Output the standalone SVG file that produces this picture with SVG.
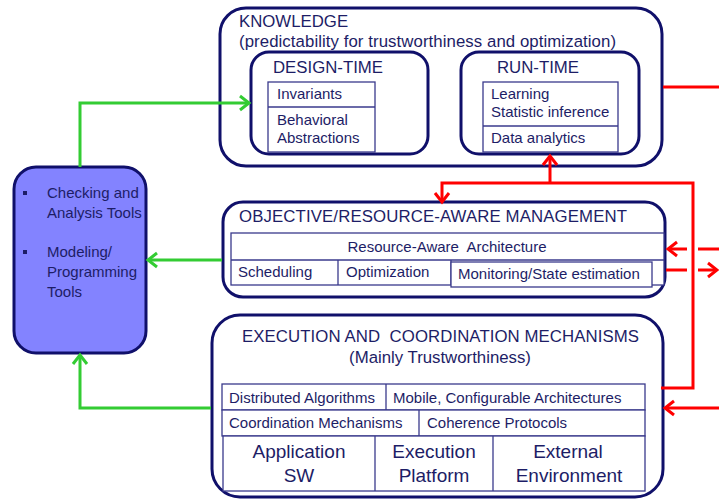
<svg xmlns="http://www.w3.org/2000/svg" width="719" height="499" viewBox="0 0 719 499">
<defs>
<style>
.box{fill:#fff;stroke:#10106a;stroke-width:3}
.cell{fill:#fff;stroke:#3a3a8c;stroke-width:1.3}
text{font-family:"Liberation Sans",Arial,sans-serif;fill:#1d1d66;white-space:pre}
.h{font-size:16.8px}
.s{font-size:15px}
.b{font-size:19px}
.g{fill:none;stroke:#33cc33;stroke-width:3}
.r{fill:none;stroke:#ff0000;stroke-width:3}
</style>
<marker id="ag" markerUnits="userSpaceOnUse" markerWidth="20" markerHeight="20" viewBox="-10 -10 20 20" refX="0" refY="0" orient="auto">
<path d="M-9,-7 L0,0 L-9,7" fill="none" stroke="#33cc33" stroke-width="3"/>
</marker>
<marker id="ar" markerUnits="userSpaceOnUse" markerWidth="20" markerHeight="20" viewBox="-10 -10 20 20" refX="0" refY="0" orient="auto">
<path d="M-9,-7 L0,0 L-9,7" fill="none" stroke="#ff0000" stroke-width="3"/>
</marker>
</defs>
<rect width="719" height="499" fill="#fff"/>

<g id="tools">
<rect x="14" y="167" width="132" height="186" rx="22" fill="#8383ff" stroke="#10106a" stroke-width="3"/>
<rect x="23" y="191" width="4" height="4" fill="#1d1d66"/>
<rect x="23" y="250" width="4" height="4" fill="#1d1d66"/>
<text class="s" x="47" y="198">Checking and</text>
<text class="s" x="47" y="218">Analysis Tools</text>
<text class="s" x="47" y="257">Modeling/</text>
<text class="s" x="47" y="277">Programming</text>
<text class="s" x="47" y="297">Tools</text>
</g>

<g id="knowledge">
<rect class="box" x="220" y="8" width="442" height="158" rx="26"/>
<text class="h" x="239" y="27">KNOWLEDGE</text>
<text class="h" x="239" y="47" textLength="377" lengthAdjust="spacing">(predictability for trustworthiness and optimization)</text>
</g>

<g id="design-time">
<rect class="box" x="251" y="52" width="177" height="102" rx="18"/>
<text class="h" x="273" y="73" textLength="110" lengthAdjust="spacingAndGlyphs">DESIGN-TIME</text>
<rect class="cell" x="268" y="82" width="107" height="70"/>
<line class="cell" x1="268" y1="107" x2="375" y2="107"/>
<text class="s" x="277" y="99">Invariants</text>
<text class="s" x="277" y="125">Behavioral</text>
<text class="s" x="277" y="143">Abstractions</text>
</g>

<g id="run-time">
<rect class="box" x="461" y="52" width="178" height="102" rx="18"/>
<text class="h" x="497" y="73" textLength="82" lengthAdjust="spacingAndGlyphs">RUN-TIME</text>
<rect class="cell" x="483" y="82" width="135" height="70"/>
<line class="cell" x1="483" y1="126" x2="618" y2="126"/>
<text class="s" x="491" y="99">Learning</text>
<text class="s" x="491" y="117">Statistic inference</text>
<text class="s" x="491" y="143">Data analytics</text>
</g>

<g id="management">
<rect class="box" x="223" y="202" width="442" height="95" rx="20"/>
<text class="h" x="239" y="222" textLength="388" lengthAdjust="spacing">OBJECTIVE/RESOURCE-AWARE MANAGEMENT</text>
<rect class="cell" x="231" y="233" width="433" height="52"/>
<line class="cell" x1="231" y1="260" x2="664" y2="260"/>
<line class="cell" x1="338" y1="260" x2="338" y2="285"/>
<line class="cell" x1="451" y1="260" x2="451" y2="285"/>
<rect class="cell" x="451" y="262" width="201" height="25"/>
<text class="s" x="447" y="252" text-anchor="middle">Resource-Aware  Architecture</text>
<text class="s" x="238" y="277">Scheduling</text>
<text class="s" x="346" y="277">Optimization</text>
<text class="s" x="458" y="279">Monitoring/State estimation</text>
</g>

<g id="execution">
<rect class="box" x="212" y="315" width="451" height="182" rx="28"/>
<text class="h" x="242" y="342" textLength="397" lengthAdjust="spacing">EXECUTION AND  COORDINATION MECHANISMS</text>
<text class="h" x="440" y="363" text-anchor="middle">(Mainly Trustworthiness)</text>
<rect class="cell" x="222" y="384" width="423" height="26"/>
<line class="cell" x1="386" y1="384" x2="386" y2="410"/>
<rect class="cell" x="222" y="410" width="423" height="26"/>
<line class="cell" x1="419" y1="410" x2="419" y2="436"/>
<rect class="cell" x="223" y="436" width="422" height="55"/>
<line class="cell" x1="375" y1="436" x2="375" y2="491"/>
<line class="cell" x1="493" y1="436" x2="493" y2="491"/>
<text class="s" x="229" y="403">Distributed Algorithms</text>
<text class="s" x="393" y="403">Mobile, Configurable Architectures</text>
<text class="s" x="229" y="428">Coordination Mechanisms</text>
<text class="s" x="427" y="428">Coherence Protocols</text>
<text class="b" x="299" y="458" text-anchor="middle">Application</text>
<text class="b" x="299" y="482" text-anchor="middle">SW</text>
<text class="b" x="434" y="458" text-anchor="middle">Execution</text>
<text class="b" x="434" y="482" text-anchor="middle">Platform</text>
<text class="b" x="568" y="458" text-anchor="middle">External</text>
<text class="b" x="569" y="482" text-anchor="middle">Environment</text>
</g>

<g id="connectors">
<path class="g" d="M80,167 V103 H249" marker-end="url(#ag)"/>
<path class="g" d="M222,260 H148" marker-end="url(#ag)"/>
<path class="g" d="M211,408 H80 V355" marker-end="url(#ag)"/>
<path class="r" d="M663,87 H719"/>
<path class="r" d="M550,183 V156" marker-end="url(#ar)"/>
<path class="r" d="M550,183 H442 V202" marker-end="url(#ar)"/>
<path class="r" d="M550,183 H693 V388 H661"/>
<path class="r" d="M687,249 H668" marker-end="url(#ar)"/>
<path class="r" d="M719,249 H698"/>
<path class="r" d="M666,270 H687"/>
<path class="r" d="M698,270 H717" marker-end="url(#ar)"/>
<path class="r" d="M719,408 H665" marker-end="url(#ar)"/>
</g>
</svg>
